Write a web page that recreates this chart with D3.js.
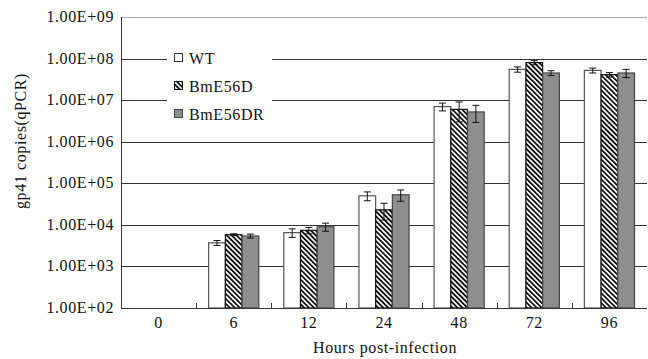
<!DOCTYPE html>
<html><head><meta charset="utf-8">
<script src="https://cdn.jsdelivr.net/npm/d3@7"></script>
<style>body{margin:0;background:#fff}svg{display:block}</style>
</head><body><div id="chart"></div>
<script>
const categories = ["0","6","12","24","48","72","96"];
const seriesNames = ["WT","BmE56D","BmE56DR"];
const wtValues = [null,3700,6500,50000,7.0e6,5.5e7,5.2e7];
const wtErrors = [null,500,1500,12000,1.5e6,8e6,7e6];
const dValues = [null,5800,7400,23000,6.0e6,8.0e7,4.1e7];
const dErrors = [null,300,1300,10000,3.0e6,9e6,5e6];
const drValues = [null,5400,9000,53000,5.2e6,4.5e7,4.5e7];
const drErrors = [null,600,2000,16000,2.3e6,6e6,1e7];
const yTickValues = [1e2,1e3,1e4,1e5,1e6,1e7,1e8,1e9];
const yTickLabels = ["1.00E+02","1.00E+03","1.00E+04","1.00E+05","1.00E+06","1.00E+07","1.00E+08","1.00E+09"];

const FONT = "'Liberation Serif','DejaVu Serif','Times New Roman',serif";
const FS = 16, LS = 0.6;
const W=648,H=359, m={l:121,r:1,t:17,b:51};
const svg=d3.select("#chart").append("svg").attr("width",W).attr("height",H)
  .attr("font-family",FONT).attr("letter-spacing",LS);
const defs=svg.append("defs");
const pat=defs.append("pattern").attr("id","hatch").attr("patternUnits","userSpaceOnUse")
  .attr("width",3.5).attr("height",3.5).attr("patternTransform","rotate(-45)");
pat.append("rect").attr("width",3.5).attr("height",3.5).attr("fill","#fff");
pat.append("rect").attr("x",0).attr("width",1.8).attr("height",3.5).attr("fill","#111");

const x=d3.scaleBand().domain(categories).range([m.l,W-m.r]).paddingInner(0.333).paddingOuter(0.1665);
const xb=d3.scaleBand().domain(categories).range([m.l,W-m.r]);
const xs=d3.scaleBand().domain(seriesNames).range([0,x.bandwidth()]);
const y=d3.scaleLog().domain([1e2,1e9]).range([H-m.b,m.t]);

// gridlines
svg.append("g").selectAll("line").data(yTickValues.slice(1)).join("line")
  .attr("x1",m.l).attr("x2",W-m.r).attr("y1",d=>Math.round(y(d))+0.5).attr("y2",d=>Math.round(y(d))+0.5)
  .attr("stroke",d=>d===1e9?"#aaa":"#333").attr("stroke-width",1);

// legend background blocks gridlines
svg.append("rect").attr("x",167).attr("y",44).attr("width",105).attr("height",86).attr("fill","#fff");

const styles={WT:{fill:"#fff",stroke:"#555"},BmE56D:{fill:"url(#hatch)",stroke:"#111"},BmE56DR:{fill:"#8e8e8e",stroke:"#444"}};
const data=[[wtValues,wtErrors],[dValues,dErrors],[drValues,drErrors]];
seriesNames.forEach((s,si)=>{
  const g=svg.append("g");
  const rows=categories.map((c,i)=>({c,v:data[si][0][i],e:data[si][1][i]})).filter(d=>d.v!=null);
  g.selectAll("rect").data(rows).join("rect")
    .attr("x",d=>x(d.c)+xs(s)).attr("width",xs.bandwidth())
    .attr("y",d=>y(d.v)).attr("height",d=>y(1e2)-y(d.v))
    .attr("fill",styles[s].fill).attr("stroke",styles[s].stroke).attr("stroke-width",1.2);
  const eb=g.selectAll("g.eb").data(rows).join("g").attr("class","eb");
  const cx=d=>x(d.c)+xs(s)+xs.bandwidth()/2;
  eb.append("line").attr("x1",cx).attr("x2",cx).attr("y1",d=>y(d.v+d.e)).attr("y2",d=>y(Math.max(d.v-d.e,1e2)))
    .attr("stroke","#111").attr("stroke-width",1);
  [1,-1].forEach(sg=>{
    eb.append("line").attr("x1",d=>cx(d)-3.5).attr("x2",d=>cx(d)+3.5)
      .attr("y1",d=>y(d.v+sg*d.e)).attr("y2",d=>y(d.v+sg*d.e)).attr("stroke","#111").attr("stroke-width",1);
  });
});

// axes
svg.append("line").attr("x1",m.l+0.5).attr("x2",m.l+0.5).attr("y1",m.t).attr("y2",H-m.b).attr("stroke","#333");
svg.append("line").attr("x1",m.l).attr("x2",W-m.r).attr("y1",H-m.b+0.5).attr("y2",H-m.b+0.5).attr("stroke","#333");
svg.append("g").selectAll("line").data(categories.slice(1)).join("line")
  .attr("x1",d=>Math.round(xb(d))+0.5).attr("x2",d=>Math.round(xb(d))+0.5)
  .attr("y1",H-m.b-5).attr("y2",H-m.b).attr("stroke","#333");
svg.append("g").selectAll("text").data(categories).join("text")
  .attr("x",d=>xb(d)+xb.bandwidth()/2).attr("y",H-m.b+20).attr("text-anchor","middle")
  .attr("font-size",FS).attr("fill","#111").text(d=>d);
svg.append("g").selectAll("text").data(yTickValues).join("text")
  .attr("x",m.l-7).attr("y",d=>y(d)+5).attr("text-anchor","end").attr("font-size",FS).attr("fill","#111")
  .text((d,i)=>yTickLabels[i]);
svg.append("text").attr("x",385).attr("y",353).attr("text-anchor","middle").attr("font-size",FS).attr("fill","#111").text("Hours post-infection");
svg.append("text").attr("transform","translate(26,141) rotate(-90)").attr("text-anchor","middle").attr("font-size",FS).attr("fill","#111").text("gp41 copies(qPCR)");

// legend
const lg=svg.append("g");
seriesNames.forEach((s,i)=>{
  const yy=59+i*28;
  lg.append("rect").attr("x",174.5).attr("y",yy-5.5).attr("width",8).attr("height",8)
    .attr("fill",styles[s].fill).attr("stroke",s==="WT"?"#333":styles[s].stroke);
  lg.append("text").attr("x",189).attr("y",yy+5).attr("font-size",FS).attr("fill","#111").text(s);
});
</script></body></html>
